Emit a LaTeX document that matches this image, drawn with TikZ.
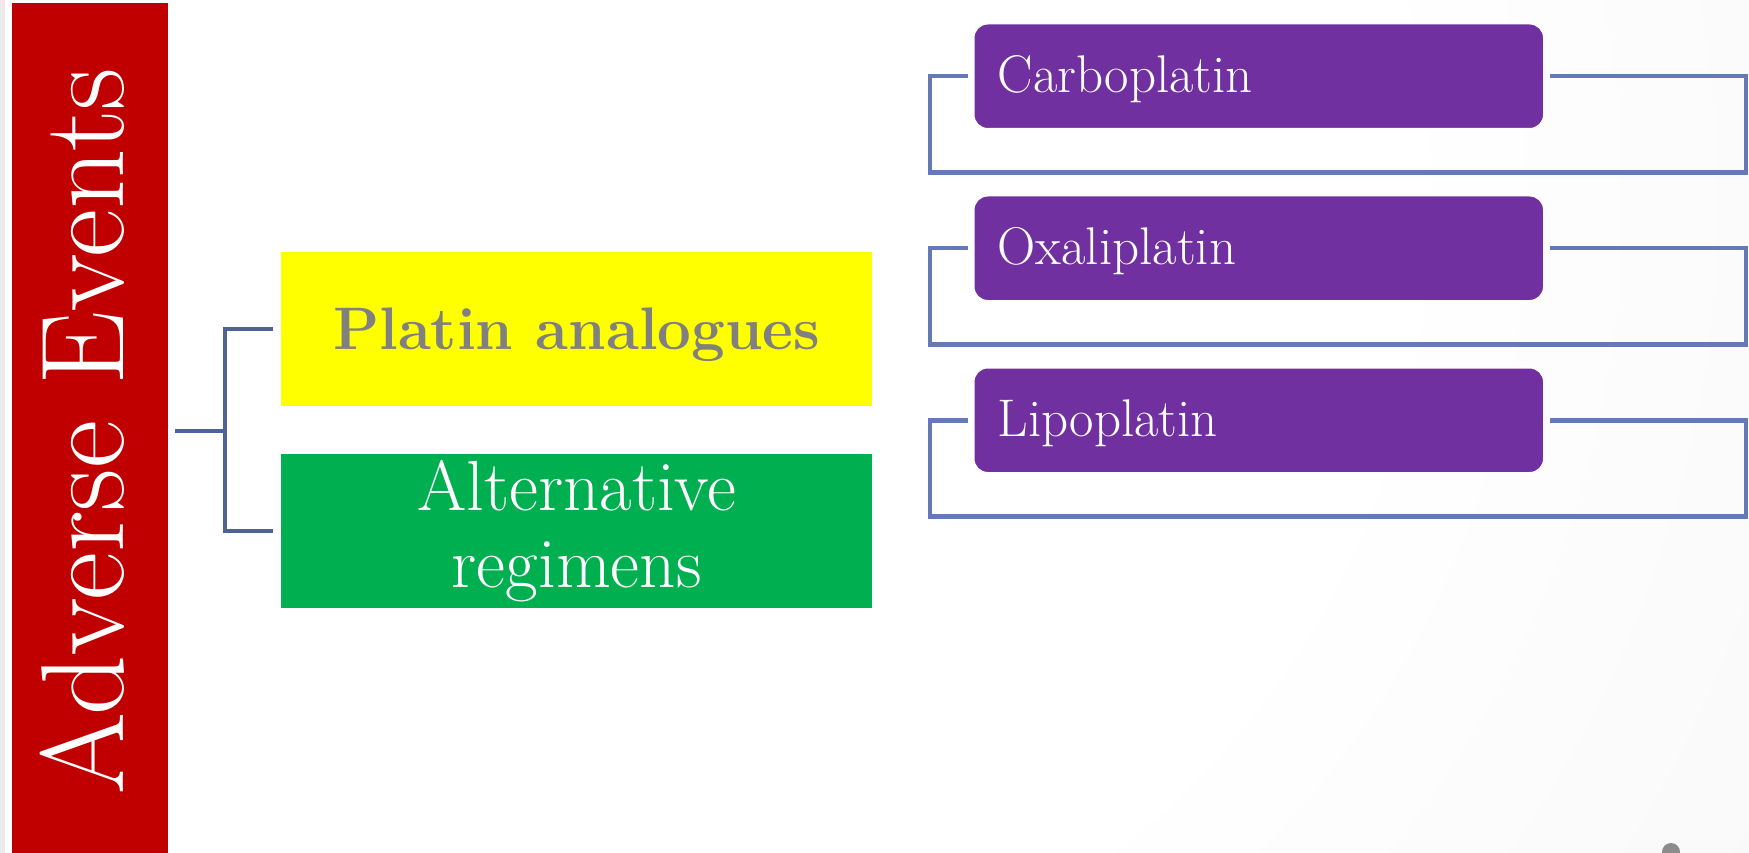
\documentclass[tikz,border=0pt]{standalone}
\usepackage{fontspec}
\definecolor{redbar}{HTML}{C00000}
\definecolor{ybox}{HTML}{FFFF00}
\definecolor{gbox}{HTML}{00B050}
\definecolor{pbox}{HTML}{7030A0}
\definecolor{graytext}{HTML}{808080}
\definecolor{rootline}{HTML}{4F6294}
\definecolor{subline}{HTML}{6479B6}
\definecolor{dotgray}{HTML}{8C8C8C}
\pgfdeclareradialshading{bgshade}{\pgfpoint{0bp}{0bp}}{color(0bp)=(white); color(14bp)=(white); color(27bp)=(black!3); color(41bp)=(black!6); color(47.5bp)=(black!14); color(50bp)=(black!15)}
\tikzset{
  flatbox/.style={draw=none, inner sep=0pt, anchor=north west, minimum width=591pt, minimum height=154pt},
  drugbox/.style={fill=pbox, draw=white, line width=1.5pt, rounded corners=14pt, anchor=north west,
     minimum width=570pt, minimum height=105pt, inner xsep=24pt, inner ysep=0pt,
     text width=522pt, align=left, text=white, font=\fontsize{53}{62}\selectfont,
     text height=40pt, text depth=7pt},
  rootconn/.style={draw=rootline, line width=4.5pt},
  subconn/.style={draw=subline, line width=4.5pt}
}
\begin{document}
\begin{tikzpicture}[x=1pt,y=-1pt]
\useasboundingbox (0,0) rectangle (1749,853);
\begin{scope}
\clip (0,0) rectangle (1749,853);
\shade[shading=bgshade] (600,200) circle (1400pt);
\fill[black!8] (0,0) rectangle (5,853);
\fill[white] (5,0) rectangle (174,853);
\node (ae) [rotate=90, fill=redbar, inner sep=0pt, minimum width=856pt, minimum height=156pt,
  text=white, font=\fontsize{118}{130}\selectfont, text height=82pt, text depth=16pt] at (90,431) {Adverse Events};
\fill[dotgray] (1671,852) circle (9pt);
\end{scope}

\coordinate (re) at (1746,0);

\node (pa) [flatbox, fill=ybox, text=graytext, font=\bfseries\fontsize{60}{72}\selectfont,
  text height=50pt, text depth=10pt] at (281,252) {Platin analogues};
\node (ar) [flatbox, fill=gbox, text=white, align=center, font=\fontsize{71}{77}\selectfont] at (281,454) {Alternative\\regimens};

\node (cb) [drugbox] at (973,23) {Carboplatin};
\node (ox) [drugbox] at (973,195) {Oxaliplatin};
\node (lp) [drugbox] at (973,367) {Lipoplatin};

\draw[rootconn] ([xshift=7pt]ae.south) -- ([xshift=-56pt]pa.west |- ae.south);
\draw[rootconn] ([xshift=-8pt]pa.west) -| ([xshift=-56pt]pa.west) |- ([xshift=-8pt]ar.west);

\foreach \n in {cb,ox,lp}{
  \draw[subconn] ([xshift=-5pt]\n.west) -- ([xshift=-43pt]\n.west) |- ([yshift=-43pt]\n.south)
     -| (\n.east -| re) -- ([xshift=5pt]\n.east);
}
\end{tikzpicture}
\end{document}
